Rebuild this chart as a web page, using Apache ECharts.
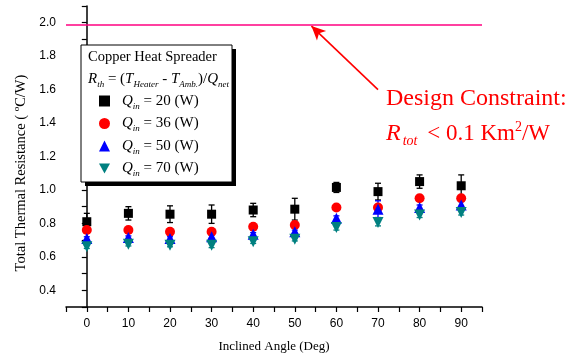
<!DOCTYPE html>
<html>
<head>
<meta charset="utf-8">
<script src="https://cdn.jsdelivr.net/npm/echarts@6/dist/echarts.min.js"></script>
<style>
    html, body { margin: 0; padding: 0; background: #fff; }
    #chart { width: 577px; height: 358px; }
</style>
</head>
<body>
<div id="chart"></div>
<script>
const angles = [0, 10, 20, 30, 40, 50, 60, 70, 80, 90]
const qLabels = [20, 36, 50, 70]

const q20 = [0.81, 0.86, 0.855, 0.855, 0.88, 0.885, 1.015, 0.99, 1.05, 1.025]
const q20Err = [0.05, 0.04, 0.05, 0.055, 0.04, 0.065, 0.03, 0.05, 0.04, 0.065]
const q36 = [0.76, 0.76, 0.75, 0.75, 0.78, 0.79, 0.895, 0.895, 0.95, 0.95]
const q36Err = [0.015, 0.01, 0.01, 0.01, 0.01, 0.01, 0.01, 0.015, 0.01, 0.01]
const q50 = [0.71, 0.715, 0.71, 0.72, 0.735, 0.75, 0.83, 0.885, 0.895, 0.91]
const q50Err = [0.01, 0.01, 0.01, 0.015, 0.01, 0.01, 0.015, 0.05, 0.015, 0.02]
const q70 = [0.66, 0.675, 0.67, 0.67, 0.69, 0.705, 0.775, 0.805, 0.85, 0.865]
const q70Err = [0.01, 0.01, 0.01, 0.015, 0.01, 0.01, 0.015, 0.02, 0.015, 0.015]

const constraint = 1.99
// arrow: [angle, resistance] from the label up to the constraint line
const arrowFrom = [70, 1.6]
const arrowTo = [54, 1.98]

const serif = 'Liberation Serif'
const sans = 'Liberation Sans'

const colors = ['#000000', '#ff0000', '#0000ff', '#008080']
const symbols = ['rect', 'circle', 'triangle', 'path://M0,0 L10,0 L5,9 Z']
const sizes = [9, 10, 11, 11]
const values = [q20, q36, q50, q70]
const errs = [q20Err, q36Err, q50Err, q70Err]

const names = qLabels.map(q => 'Qin = ' + q + ' (W)')

function errRender(color) {
    return (params, api) => {
        const x = api.value(0)
        const top = api.coord([x, api.value(2)])
        const bot = api.coord([x, api.value(1)])
        const w = 3
        const style = { stroke: color, lineWidth: 1.3 }
        return {
            type: 'group',
            children: [
                { type: 'line', shape: { x1: top[0], y1: top[1], x2: bot[0], y2: bot[1] }, style },
                { type: 'line', shape: { x1: top[0] - w, y1: top[1], x2: top[0] + w, y2: top[1] }, style },
                { type: 'line', shape: { x1: bot[0] - w, y1: bot[1], x2: bot[0] + w, y2: bot[1] }, style },
            ]
        }
    }
}

const series = []
values.forEach((vals, i) => {
    series.push({
        type: 'custom',
        name: names[i] + ' err',
        renderItem: errRender(colors[i]),
        data: angles.map((a, k) => [a, vals[k] - errs[i][k], vals[k] + errs[i][k]]),
        z: 2,
        silent: true,
    })
})
values.forEach((vals, i) => {
    series.push({
        type: 'scatter',
        name: names[i],
        symbol: symbols[i],
        symbolSize: sizes[i],
        itemStyle: { color: colors[i], opacity: 1 },
        data: angles.map((a, k) => [a, vals[k]]),
        z: 3,
    })
})
// constraint line and arrow
series[4].markLine = {
    silent: true,
    animation: false,
    label: { show: false },
    symbol: ['none', 'none'],
    data: [
        { yAxis: constraint, symbol: 'none', lineStyle: { color: '#ff0080', width: 1.6, type: 'solid' } },
        [
            { coord: arrowFrom, symbol: 'none', lineStyle: { color: '#ff0000', width: 1.6, type: 'solid' } },
            { coord: arrowTo, symbol: 'arrow', symbolSize: [10, 14] }
        ]
    ],
}

const sub = (size, color) => ({ fontFamily: serif, fontStyle: 'italic', fontSize: size, color, verticalAlign: 'bottom', lineHeight: size + 2 })

const chart = echarts.init(document.getElementById('chart'), null, { renderer: 'canvas' })
chart.setOption({
    animation: false,
    backgroundColor: '#fff',
    grid: { left: 66, right: 95, top: 6, bottom: 47 },
    xAxis: {
        type: 'value',
        min: -5,
        max: 95,
        interval: 5,
        name: 'Inclined Angle (Deg)',
        nameLocation: 'middle',
        nameGap: 33,
        nameTextStyle: { fontFamily: serif, fontSize: 13, color: '#000' },
        axisLine: { onZero: false, lineStyle: { color: '#000', width: 1.5 } },
        axisTick: { inside: false, length: 5, lineStyle: { color: '#000', width: 1.2 } },
        axisLabel: {
            margin: 11,
            fontFamily: sans,
            fontSize: 12,
            color: '#000',
            formatter: v => (Math.round(v) % 10 === 0 ? String(Math.round(v)) : ''),
        },
        splitLine: { show: false },
    },
    yAxis: {
        type: 'value',
        min: 0.3,
        max: 2.1,
        interval: 0.1,
        axisLine: { show: true, lineStyle: { color: '#000', width: 1.5 } },
        axisTick: { show: true, inside: false, length: 5, lineStyle: { color: '#000', width: 1.2 } },
        axisLabel: {
            margin: 10,
            fontFamily: sans,
            fontSize: 12,
            color: '#000',
            formatter: v => {
                const t = Math.round(v * 10)
                return t % 2 === 0 && t >= 4 ? (t / 10).toFixed(1) : ''
            },
        },
        splitLine: { show: false },
    },
    legend: {
        data: names,
        orient: 'vertical',
        left: 99,
        top: 93.5,
        padding: 0,
        itemWidth: 11,
        itemHeight: 11,
        itemGap: 5,
        z: 10,
        selectedMode: false,
        formatter: name => {
            const q = qLabels[names.indexOf(name)]
            return '{q|Q}{s|in}{t| = ' + q + ' (W)}'
        },
        textStyle: {
            padding: [0, 0, 0, 7],
            rich: {
                q: { fontFamily: serif, fontStyle: 'italic', fontSize: 15, color: '#000', lineHeight: 20 },
                s: sub(9, '#000'),
                t: { fontFamily: serif, fontSize: 15, color: '#000', lineHeight: 20 },
            }
        },
    },
    graphic: [
        {
            type: 'rect',
            z: 5,
            shape: { x: 85, y: 49, width: 151, height: 137 },
            style: { fill: '#000' },
        },
        {
            type: 'rect',
            z: 5,
            shape: { x: 81, y: 45, width: 151, height: 137 },
            style: { fill: '#fff', stroke: '#000', lineWidth: 1 },
        },
        {
            type: 'text',
            z: 6,
            x: 88,
            y: 57,
            style: { text: 'Copper Heat Spreader', fontFamily: serif, fontSize: 14.5, fill: '#000', verticalAlign: 'middle' },
        },
        {
            type: 'text',
            z: 6,
            x: 88,
            y: 79,
            style: {
                text: '{i|R}{s|th}{n| = (}{i|T}{s|Heater}{n| - }{i|T}{s|Amb.}{n|)/}{i|Q}{s|net}',
                verticalAlign: 'middle',
                rich: {
                    i: { fontFamily: serif, fontStyle: 'italic', fontSize: 15, fill: '#000', lineHeight: 20 },
                    n: { fontFamily: serif, fontSize: 15, fill: '#000', lineHeight: 20 },
                    s: sub(9, '#000'),
                }
            },
        },
        {
            type: 'text',
            x: 21,
            y: 173,
            rotation: Math.PI / 2,
            style: {
                text: '{n|Total Thermal Resistance ( }{p|o}{n|C/W)}',
                align: 'center',
                verticalAlign: 'middle',
                rich: {
                    n: { fontFamily: serif, fontSize: 14.5, fill: '#000', lineHeight: 17 },
                    p: { fontFamily: serif, fontSize: 9, fill: '#000', verticalAlign: 'top', lineHeight: 10 },
                }
            },
        },
        {
            type: 'text',
            x: 386,
            y: 99,
            style: { text: 'Design Constraint:', fontFamily: serif, fontSize: 24, fill: '#ff0000', verticalAlign: 'middle' },
        },
        {
            type: 'text',
            x: 386,
            y: 134,
            style: {
                text: '{i|R}{s|tot}{n| < 0.1 Km}{p|2}{n|/W}',
                verticalAlign: 'middle',
                rich: {
                    i: { fontFamily: serif, fontStyle: 'italic', fontSize: 24, fill: '#ff0000', lineHeight: 28 },
                    n: { fontFamily: serif, fontSize: 23, fill: '#ff0000', lineHeight: 28 },
                    s: { fontFamily: serif, fontStyle: 'italic', fontSize: 14, fill: '#ff0000', verticalAlign: 'bottom', lineHeight: 8, padding: [0, 4, 0, 2] },
                    p: { fontFamily: serif, fontSize: 14, fill: '#ff0000', verticalAlign: 'top', lineHeight: 14 },
                }
            },
        },
    ],
    series,
})
</script>
</body>
</html>
